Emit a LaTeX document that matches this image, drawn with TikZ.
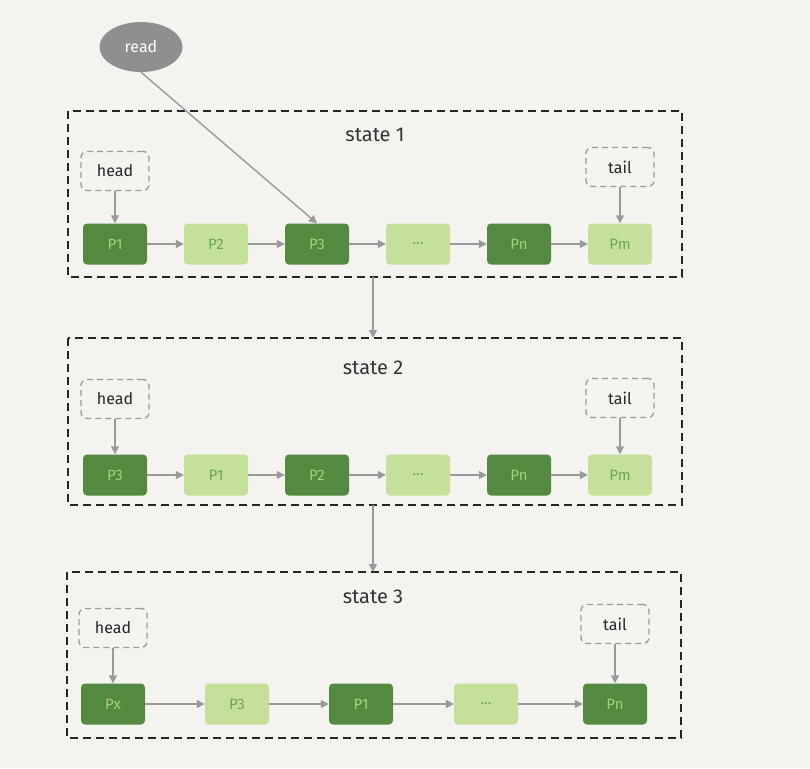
\documentclass[tikz,border=0pt]{standalone}
\usepackage{fontspec}
\setmainfont{Fira Sans}
\usetikzlibrary{arrows.meta,shapes.geometric}
\definecolor{bg}{HTML}{F4F3EF}
\definecolor{dkg}{HTML}{538A3F}
\definecolor{ltg}{HTML}{C5E09A}
\definecolor{dktxt}{HTML}{A3D27A}
\definecolor{lttxt}{HTML}{6FA650}
\definecolor{arr}{HTML}{9A9A9A}
\definecolor{rd}{HTML}{8F8F8F}
\tikzset{
  pnode/.style={rounded corners=4pt, minimum width=64pt, minimum height=41pt, inner sep=0pt, font=\fontsize{15}{15}\selectfont},
  dk/.style={pnode, fill=dkg, text=dktxt},
  lt/.style={pnode, fill=ltg, text=lttxt},
  ptr/.style={draw=arr, dashed, dash pattern=on 6pt off 4pt, line width=1.3pt, rounded corners=6pt, minimum width=68pt, minimum height=39pt, inner sep=0pt, font=\fontsize{16}{16}\selectfont, text=black!85},
  statebox/.style={draw=black!85, line width=1.4pt, dash pattern=on 8pt off 5pt},
  lbl/.style={font=\fontsize{20}{20}\selectfont, text=black!80},
  conn/.style={draw=arr, line width=1.4pt, -{Triangle[width=8pt,length=8pt]}},
}
\begin{document}
\begin{tikzpicture}[x=1pt,y=-1pt]
\fill[bg] (0,0) rectangle (810,768);
\useasboundingbox (0,0) rectangle (810,768);

% read
\node[ellipse, fill=rd, minimum width=83pt, minimum height=50pt, inner sep=0pt, text=white, font=\fontsize{16}{16}\selectfont] (read) at (141,47) {read};

% state 1
\draw[statebox] (68,111) rectangle (682,277);
\coordinate (s1b) at (373,277);
\node[lbl] (t1) at (375,135) {state 1};
\node[ptr] (h1) at (115,171) {head};
\node[ptr] (tl1) at (620,167) {tail};
\node[dk] (a1) at (115,244) {P1};
\node[lt] (a2) at (216,244) {P2};
\node[dk] (a3) at (317,244) {P3};
\node[lt] (a4) at (418,244) {...};
\node[dk] (a5) at (519,244) {Pn};
\node[lt] (a6) at (620,244) {Pm};
\foreach \i/\j in {a1/a2,a2/a3,a3/a4,a4/a5,a5/a6} \draw[conn] (\i) -- (\j);
\draw[conn] (h1) -- (a1);
\draw[conn] (tl1) -- (a6);
\draw[conn] (read.south) -- (a3.north);

% state 2
\draw[statebox] (68,338) rectangle (682,505);
\coordinate (s2t) at (373,338);
\coordinate (s2b) at (373,505);
\draw[conn] (s1b) -- (s2t);
\node[lbl] (t2) at (373,368) {state 2};
\node[ptr] (h2) at (115,399) {head};
\node[ptr] (tl2) at (620,398) {tail};
\node[dk] (b1) at (115,475) {P3};
\node[lt] (b2) at (216,475) {P1};
\node[dk] (b3) at (317,475) {P2};
\node[lt] (b4) at (418,475) {...};
\node[dk] (b5) at (519,475) {Pn};
\node[lt] (b6) at (620,475) {Pm};
\foreach \i/\j in {b1/b2,b2/b3,b3/b4,b4/b5,b5/b6} \draw[conn] (\i) -- (\j);
\draw[conn] (h2) -- (b1);
\draw[conn] (tl2) -- (b6);

% state 3
\draw[statebox] (67,572) rectangle (681,738);
\coordinate (s3t) at (373,572);
\draw[conn] (s2b) -- (s3t);
\node[lbl] (t3) at (373,597) {state 3};
\node[ptr] (h3) at (113,628) {head};
\node[ptr] (tl3) at (615,624) {tail};
\node[dk] (c1) at (113,704) {Px};
\node[lt] (c2) at (237,704) {P3};
\node[dk] (c3) at (361,704) {P1};
\node[lt] (c4) at (486,704) {...};
\node[dk] (c5) at (615,704) {Pn};
\foreach \i/\j in {c1/c2,c2/c3,c3/c4,c4/c5} \draw[conn] (\i) -- (\j);
\draw[conn] (h3) -- (c1);
\draw[conn] (tl3) -- (c5);
\end{tikzpicture}
\end{document}
